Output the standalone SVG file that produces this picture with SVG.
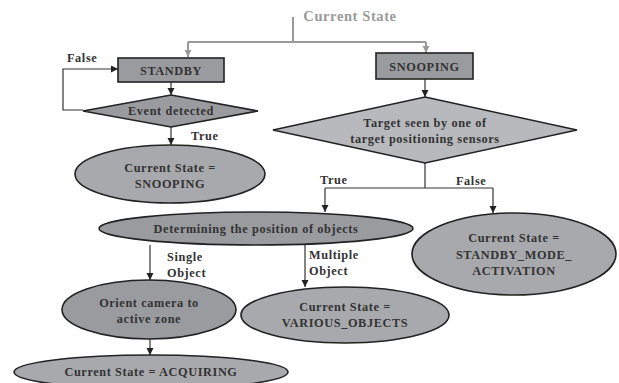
<svg xmlns="http://www.w3.org/2000/svg" width="619" height="383" viewBox="0 0 619 383" font-family="Liberation Serif, DejaVu Serif, serif">
<style>
text{font-family:'Liberation Serif','Times New Roman','DejaVu Serif',serif;font-weight:bold;font-size:12.3px;fill:#333;text-anchor:middle;letter-spacing:0.6px}
.lbl{text-anchor:start}
.dark{fill:#9a9b9f;stroke:#222;stroke-width:1.6}
.mid{fill:#a8a9ad;stroke:#222;stroke-width:1.6}
.light{fill:#b8b9bd;stroke:#222;stroke-width:1.6}
.conn{fill:none;stroke:#333;stroke-width:1.2}
.gconn{fill:none;stroke:#9a9a9a;stroke-width:2}
</style>
<defs>
<marker id="ah" markerWidth="8" markerHeight="8" refX="7" refY="4" orient="auto" markerUnits="userSpaceOnUse"><path d="M0,0.5 L7,4 L0,7.5 Z" fill="#222"/></marker>
<marker id="gh" markerWidth="8" markerHeight="8" refX="7" refY="4" orient="auto" markerUnits="userSpaceOnUse"><path d="M0,0.5 L7,4 L0,7.5 Z" fill="#9a9a9a"/></marker>
</defs>
<rect width="619" height="383" fill="#fff"/>
<text x="350" y="21" style="font-size:14.5px;fill:#9a9a9a">Current State</text>
<g id="connectors">
<path class="gconn" d="M293,17 V42 M188,42 H426"/>
<path class="gconn" d="M188,42 V57" marker-end="url(#gh)"/>
<path class="gconn" d="M426,42 V53" marker-end="url(#gh)"/>
<path class="conn" d="M171,82 V95" marker-end="url(#ah)"/>
<path class="conn" d="M83,110 H63 V69 H118" marker-end="url(#ah)"/>
<path class="conn" d="M171,127 V145" marker-end="url(#ah)"/>
<path class="conn" d="M425,79 V97" marker-end="url(#ah)"/>
<path class="conn" d="M425,163 V188 M325,188 H493"/>
<path class="conn" d="M325,188 V212" marker-end="url(#ah)"/>
<path class="conn" d="M493,188 V213" marker-end="url(#ah)"/>
<path class="conn" d="M150,245 V280" marker-end="url(#ah)"/>
<path class="conn" d="M305,245 V287" marker-end="url(#ah)"/>
<path class="conn" d="M150,339 V355" marker-end="url(#ah)"/>
<text class="lbl" x="67" y="62">False</text>
<text class="lbl" x="191" y="140">True</text>
<text class="lbl" x="320" y="184">True</text>
<text class="lbl" x="456" y="185">False</text>
<text class="lbl" x="167" y="261">Single</text>
<text class="lbl" x="167" y="277">Object</text>
<text class="lbl" x="309" y="259">Multiple</text>
<text class="lbl" x="309" y="275">Object</text>
</g>
<g id="standby">
<rect class="dark" x="118" y="58" width="106" height="24"/>
<text x="171" y="75">STANDBY</text>
</g>
<g id="snooping">
<rect class="dark" x="376" y="53" width="97" height="26"/>
<text x="424.5" y="71">SNOOPING</text>
</g>
<g id="event">
<polygon class="dark" points="171,95 258,111 171,127 83,111"/>
<text x="171" y="115">Event detected</text>
</g>
<g id="target">
<polygon class="light" points="425,97 577,130 425,163 273,130"/>
<text x="425" y="127">Target seen by one of</text>
<text x="425" y="143">target positioning sensors</text>
</g>
<g id="state-snooping">
<ellipse class="mid" cx="170" cy="174" rx="95" ry="29"/>
<text x="170" y="172">Current State =</text>
<text x="170" y="188">SNOOPING</text>
</g>
<g id="determining">
<ellipse class="dark" cx="256" cy="228.5" rx="157" ry="16.5"/>
<text x="256" y="233">Determining the position of objects</text>
</g>
<g id="standby-mode">
<ellipse class="mid" cx="514" cy="254" rx="102" ry="41"/>
<text x="514" y="242">Current State =</text>
<text x="514" y="259">STANDBY_MODE_</text>
<text x="514" y="275">ACTIVATION</text>
</g>
<g id="orient">
<ellipse class="dark" cx="149" cy="309.5" rx="87" ry="29.5"/>
<text x="149" y="307">Orient camera to</text>
<text x="149" y="323">active zone</text>
</g>
<g id="various">
<ellipse class="mid" cx="345" cy="315" rx="104" ry="28"/>
<text x="345" y="311">Current State =</text>
<text x="345" y="327">VARIOUS_OBJECTS</text>
</g>
<g id="acquiring">
<ellipse class="mid" cx="151" cy="372" rx="137" ry="17"/>
<text x="151" y="376">Current State = ACQUIRING</text>
</g>
</svg>
